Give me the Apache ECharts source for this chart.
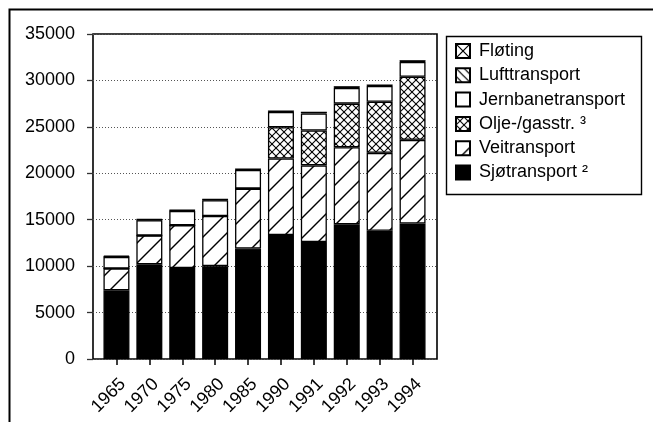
<!DOCTYPE html>
<html>
<head>
<meta charset="utf-8">
<script src="https://cdn.jsdelivr.net/npm/echarts@6/dist/echarts.min.js"></script>
<style>
  html, body { margin: 0; padding: 0; background: #fff; }
  #main { width: 653px; height: 422px; }
</style>
</head>
<body>
<div id="main"></div>
<script>
// years on the x axis
var years = ['1965', '1970', '1975', '1980', '1985', '1990', '1991', '1992', '1993', '1994'];
// stacked values, bottom to top
var sjotransport = [7400, 10200, 9800, 10000, 11900, 13350, 12600, 14500, 13800, 14600];
var veitransport = [2350, 3100, 4600, 5400, 6450, 8250, 8250, 8300, 8400, 9000];
var oljeGass = [0, 0, 0, 0, 0, 3350, 3750, 4700, 5500, 6800];
var jernbane = [1250, 1650, 1550, 1700, 2000, 1650, 1850, 1700, 1700, 1600];
var lufttransport = [40, 50, 60, 70, 90, 100, 100, 100, 100, 100];
var floting = [80, 50, 30, 20, 10, 0, 0, 0, 0, 0];
var yTicks = [0, 5000, 10000, 15000, 20000, 25000, 30000, 35000];

var FONT = '"Liberation Sans", Arial, sans-serif';

// hatch tiles drawn on small canvases
function hatch(size, dirs, lw) {
    var c = document.createElement('canvas');
    c.width = size; c.height = size;
    var g = c.getContext('2d');
    g.fillStyle = '#fff';
    g.fillRect(0, 0, size, size);
    g.strokeStyle = '#000';
    g.lineWidth = lw;
    function seg(x1, y1, x2, y2) { g.beginPath(); g.moveTo(x1, y1); g.lineTo(x2, y2); g.stroke(); }
    if (dirs.indexOf('/') >= 0) {
        seg(-size, size, size, -size);
        seg(0, size, size, 0);
        seg(0, 2 * size, 2 * size, 0);
    }
    if (dirs.indexOf('\\') >= 0) {
        seg(-size, 0, size, 2 * size);
        seg(0, 0, size, size);
        seg(0, -size, 2 * size, size);
    }
    return { image: c, repeat: 'repeat' };
}

function bar(name, data, fill) {
    return {
        name: name,
        type: 'bar',
        stack: 'total',
        xAxisIndex: 0,
        yAxisIndex: 0,
        barWidth: 26,
        data: data,
        itemStyle: { color: fill, borderColor: '#000', borderWidth: 1.3 },
        emphasis: { disabled: true }
    };
}

var chart = echarts.init(document.getElementById('main'), null, { renderer: 'canvas' });

var option = {
    animation: false,
    backgroundColor: '#fff',
    textStyle: { fontFamily: FONT },
    grid: [
        { left: 100, top: 34, width: 329, height: 325 },
        { left: 93, top: 34, width: 344, height: 325, show: true, borderColor: '#000', borderWidth: 1.6, backgroundColor: 'transparent' }
    ],
    legend: {
        orient: 'vertical',
        left: 455,
        top: 42,
        padding: 0,
        itemWidth: 14,
        itemHeight: 14,
        itemGap: 6.3,
        icon: 'rect',
        data: ['Fløting', 'Lufttransport', 'Jernbanetransport', 'Olje-/gasstr. ³', 'Veitransport', 'Sjøtransport ²'],
        textStyle: { fontSize: 18, color: '#000', fontFamily: FONT, padding: [0, 0, 0, 4] },
        selectedMode: false
    },
    xAxis: [
        {
            type: 'category', gridIndex: 0, data: years,
            axisLine: { show: false },
            axisTick: { show: true, alignWithLabel: true, length: 6, lineStyle: { color: '#000', width: 1.5 } },
            axisLabel: { rotate: 45, margin: 16, verticalAlign: 'top', fontSize: 18, color: '#000', fontFamily: FONT, interval: 0 }
        },
        { type: 'value', gridIndex: 1, min: 0, max: 1, show: false }
    ],
    yAxis: [
        { type: 'value', gridIndex: 0, min: 0, max: 35000, show: false },
        {
            type: 'value', gridIndex: 1, min: 0, max: 35000, interval: 5000,
            axisLine: { show: false },
            axisTick: { show: true, length: 6, lineStyle: { color: '#333', width: 1.3 } },
            axisLabel: { margin: 18, fontSize: 18, color: '#000', fontFamily: FONT,
                formatter: function (v) { return yTicks.indexOf(v) >= 0 ? String(v) : ''; } },
            splitLine: { show: true, lineStyle: { color: '#555', width: 1, type: [1, 2] } }
        }
    ],
    series: [
        bar('Sjøtransport ²', sjotransport, '#000'),
        bar('Veitransport', veitransport, hatch(20, '/', 1.4)),
        bar('Olje-/gasstr. ³', oljeGass, hatch(8, '/\\', 1.1)),
        bar('Jernbanetransport', jernbane, '#fff'),
        bar('Lufttransport', lufttransport, hatch(8, '\\', 1.2)),
        bar('Fløting', floting, hatch(14, '/\\', 1.2))
    ],
    graphic: [
        { type: 'rect', left: 7, top: 7, shape: { width: 700, height: 500 }, style: { fill: null, stroke: '#000', lineWidth: 2 }, silent: true },
        { type: 'rect', left: 444, top: 34, shape: { width: 195, height: 158 }, style: { fill: null, stroke: '#000', lineWidth: 1.4 }, silent: true }
    ]
};

chart.setOption(option);
</script>
</body>
</html>
